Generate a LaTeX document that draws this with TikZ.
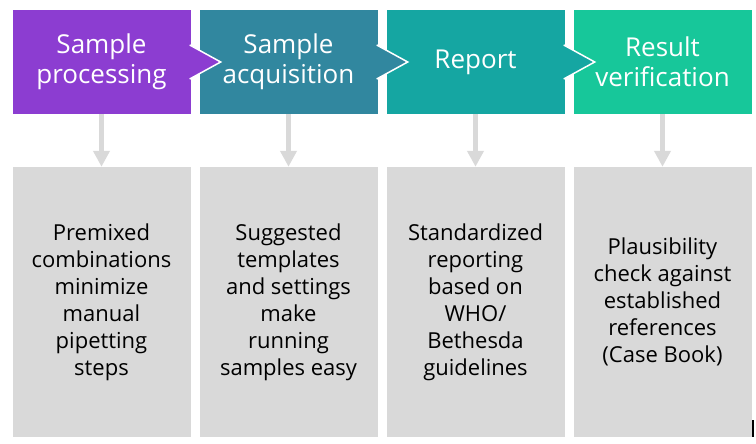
\documentclass[tikz,border=0pt]{standalone}
\usepackage{fontspec}
\setmainfont{Open Sans}
\usetikzlibrary{arrows.meta,positioning}

\definecolor{stepA}{HTML}{8C3DD1}
\definecolor{stepB}{HTML}{31879F}
\definecolor{stepC}{HTML}{15A6A2}
\definecolor{stepD}{HTML}{17C79A}
\definecolor{boxgray}{HTML}{D9D9D9}

\begin{document}
\begin{tikzpicture}[x=1pt,y=1pt,node distance=187pt,on grid,
  head/.style={minimum width=178pt,minimum height=104pt,inner sep=0pt,align=center,
    text=white,font=\fontsize{26}{30}\selectfont},
  info/.style={fill=boxgray,minimum width=178pt,minimum height=270pt,inner sep=0pt,align=center,
    font=\fontsize{22}{27}\selectfont},
  down/.style={draw=boxgray,line width=5pt,-{Triangle[width=16pt,length=16pt]}}]
\useasboundingbox (0,0) rectangle (756,444);

  \node[head,fill=stepA]  (SP) at (101.5,382)    {Sample\\processing};
  \node[head,fill=stepB]  (SA) [right =of SP]    {Sample\\acquisition};
  \node[head,fill=stepC]  (RE) [right =of SA]    {Report};
  \node[head,fill=stepD]  (RV) [right =of RE]    {Result\\verification};

  \node[info]  (SPt) [below =240pt of SP]  {Premixed\\combinations\\minimize\\manual\\pipetting\\steps};
  \node[info]  (SAt) [below =240pt of SA]  {Suggested\\templates\\and settings\\make\\running\\samples easy};
  \node[info]  (REt) [below =240pt of RE]  {Standardized\\reporting\\based on\\WHO/\\Bethesda\\guidelines};
  \node[info]  (RVt) [below =240pt of RV]  {Plausibility\\check against\\established\\references\\(Case Book)};

% notches pointing to the next step
\tikzset{notch/.style={draw=white,line width=1.5pt,line join=miter}}
\foreach \a/\c in {SP/stepA,SA/stepB,RE/stepC}
  \filldraw[notch,fill=\c] ([shift={(-1,17)}]\a.east) -- ([xshift=30pt]\a.east) -- ([shift={(-1,-17)}]\a.east);

\path (SP) edge [down] (SPt)
      (SA) edge [down] (SAt)
      (RE) edge [down] (REt)
      (RV) edge [down] (RVt);

\draw[line width=1.2pt] (753,7) -- (753,24);
\end{tikzpicture}
\end{document}
